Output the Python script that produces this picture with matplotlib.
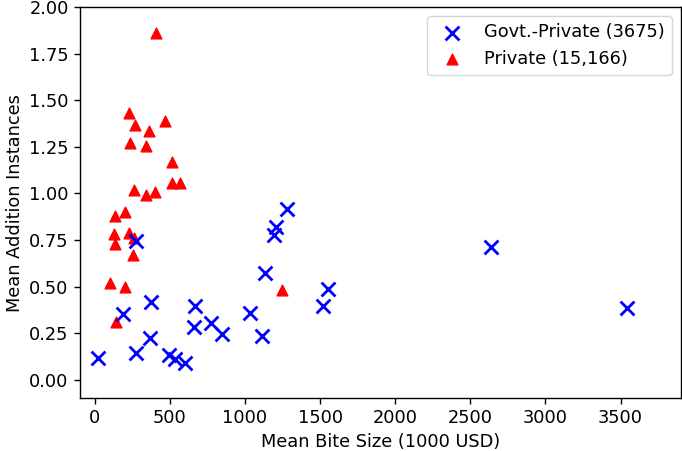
import matplotlib.pyplot as plt

# Govt.-Private (blue crosses)
gp_x = [22, 277, 366, 188, 377, 277, 492, 532, 603, 665, 661, 772, 845,
        1036, 1113, 1131, 1193, 1209, 1278, 1517, 1553, 2635, 3540]
gp_y = [0.116, 0.145, 0.224, 0.355, 0.417, 0.744, 0.134, 0.109, 0.089, 0.394,
        0.283, 0.304, 0.247, 0.358, 0.234, 0.575, 0.776, 0.82, 0.916, 0.394,
        0.484, 0.711, 0.384]

# Private (red triangles)
pr_x = [410, 228, 268, 470, 361, 233, 344, 512, 517, 566, 262, 344, 399,
        135, 202, 129, 226, 262, 133, 251, 100, 204, 144, 1249]
pr_y = [1.86, 1.43, 1.37, 1.39, 1.335, 1.27, 1.256, 1.17, 1.057, 1.057, 1.02,
        0.99, 1.007, 0.878, 0.90, 0.78, 0.79, 0.76, 0.726, 0.668, 0.52, 0.50,
        0.31, 0.48]

plt.rcParams['font.size'] = 12.8
plt.rcParams['axes.linewidth'] = 1.0
plt.rcParams['xtick.major.size'] = 4.5
plt.rcParams['ytick.major.size'] = 4.5
plt.rcParams['xtick.major.width'] = 1.0
plt.rcParams['ytick.major.width'] = 1.0

fig, ax = plt.subplots(figsize=(6.82, 4.51), dpi=100)
fig.subplots_adjust(left=0.117, right=0.998, top=0.984, bottom=0.117)

ax.scatter(gp_x, gp_y, marker='x', s=100, linewidths=2, color='blue',
           label='Govt.-Private (3675)', zorder=3)
ax.scatter(pr_x, pr_y, marker='^', s=60, color='red',
           label='Private (15,166)', zorder=2)

ax.set_xlim(-100, 3900)
ax.set_ylim(-0.1, 2.0)
ax.set_xticks([0, 500, 1000, 1500, 2000, 2500, 3000, 3500])
ax.set_yticks([0, 0.25, 0.5, 0.75, 1.0, 1.25, 1.5, 1.75, 2.0])
ax.set_yticklabels(['%.2f' % v for v in ax.get_yticks()])

ax.set_xlabel('Mean Bite Size (1000 USD)')
ax.set_ylabel('Mean Addition Instances')
ax.legend(loc='upper right')

plt.savefig('out.png', dpi=100)
